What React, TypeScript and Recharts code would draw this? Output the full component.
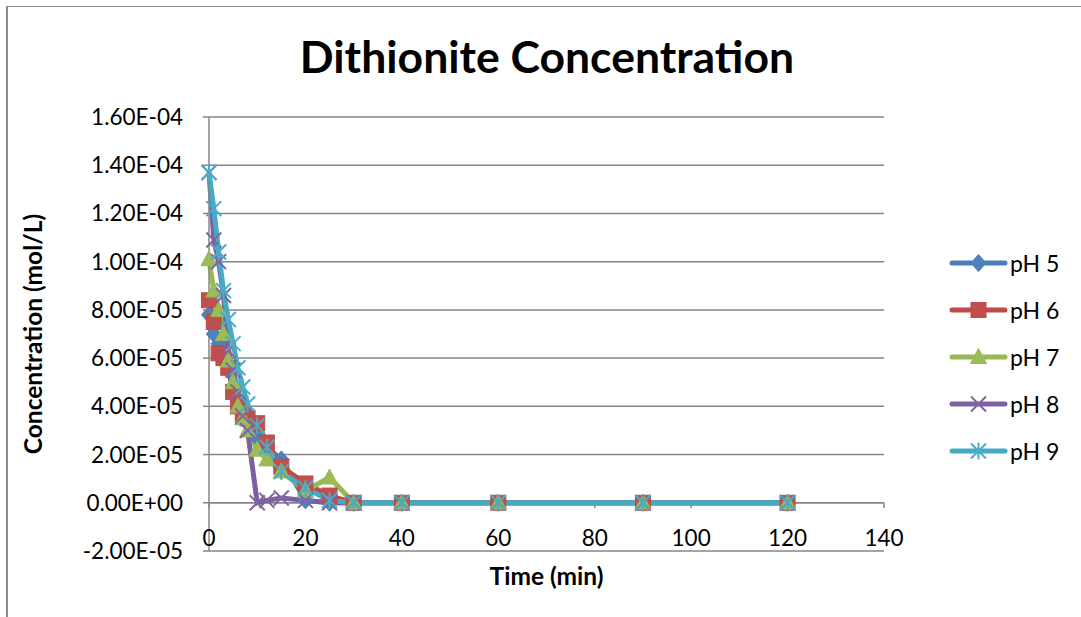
import React from 'react';
import { LineChart, Line, XAxis, YAxis, CartesianGrid, ReferenceLine, Legend } from 'recharts';

const times = [0, 1, 2, 3, 4, 5, 6, 7, 8, 10, 12, 15, 20, 25, 30, 40, 60, 90, 120];
const ph5 = [7.8e-5, 7.0e-5, 6.6e-5, 6.0e-5, 5.5e-5, 4.8e-5, 4.3e-5, 3.8e-5, 3.4e-5, 2.7e-5, 2.3e-5, 1.8e-5, 1e-6, 0, 0, 0, 0, 0, 0];
const ph6 = [8.4e-5, 7.5e-5, 6.2e-5, 6.0e-5, 5.6e-5, 4.6e-5, 4.0e-5, 3.7e-5, 3.5e-5, 3.3e-5, 2.5e-5, 1.5e-5, 8e-6, 3e-6, 0, 0, 0, 0, 0];
const ph7 = [1.01e-4, 8.8e-5, 8.0e-5, 7.0e-5, 5.9e-5, 5.0e-5, 4.0e-5, 3.5e-5, 3.0e-5, 2.2e-5, 1.8e-5, 1.3e-5, 5e-6, 1.05e-5, 0, 0, 0, 0, 0];
const ph8 = [1.37e-4, 1.09e-4, 1.0e-4, 8.6e-5, 6.3e-5, 5.5e-5, 4.6e-5, 3.6e-5, 3.0e-5, 0, 1e-6, 2e-6, 1e-6, 0, 0, 0, 0, 0, 0];
const ph9 = [1.37e-4, 1.22e-4, 1.04e-4, 8.8e-5, 7.6e-5, 6.6e-5, 5.6e-5, 4.8e-5, 4.1e-5, 3.2e-5, 2.3e-5, 1.3e-5, 6e-6, 1e-6, 0, 0, 0, 0, 0];

const seriesNames = ['pH 5', 'pH 6', 'pH 7', 'pH 8', 'pH 9'];
const seriesKeys = ['ph5', 'ph6', 'ph7', 'ph8', 'ph9'];
const seriesValues = [ph5, ph6, ph7, ph8, ph9];
const lineColors = ['#4A7EBB', '#BE4B48', '#98B954', '#7D60A0', '#46AAC5'];
const fillColors = ['#4F81BD', '#C0504D', '#9BBB59', '#8064A2', '#4BACC6'];
const markerTypes = ['diamond', 'square', 'triangle', 'x', 'star'];

const xTicks = [0, 20, 40, 60, 80, 100, 120, 140];
const yTicks = [-2e-5, 0, 2e-5, 4e-5, 6e-5, 8e-5, 1e-4, 1.2e-4, 1.4e-4, 1.6e-4];

const data = times.map((t, i) => {
  const row: any = { t };
  seriesKeys.forEach((k, j) => { row[k] = seriesValues[j][i]; });
  return row;
});

const FONT = 'Lato, "Liberation Sans", sans-serif';
const GRID = '#868686';
const TICK_FS = 22.5;

function fmt(v: number): string {
  if (Math.abs(v) < 1e-15) return '0.00E+00';
  const e = Math.floor(Math.log10(Math.abs(v)) + 1e-9);
  const m = v / Math.pow(10, e);
  return `${m.toFixed(2)}E${e < 0 ? '-' : '+'}${String(Math.abs(e)).padStart(2, '0')}`;
}

function Marker({ type, cx, cy, fill, stroke }: any) {
  if (cx == null || cy == null) return null;
  const s = 7.5;
  switch (type) {
    case 'diamond':
      return <polygon points={`${cx},${cy - s - 1} ${cx + s},${cy} ${cx},${cy + s + 1} ${cx - s},${cy}`} fill={fill} stroke={stroke} strokeWidth={1} />;
    case 'square':
      return <rect x={cx - s} y={cy - s} width={2 * s} height={2 * s} fill={fill} stroke={stroke} strokeWidth={1} />;
    case 'triangle':
      return <polygon points={`${cx},${cy - s - 1} ${cx + s + 0.5},${cy + s - 1} ${cx - s - 0.5},${cy + s - 1}`} fill={fill} stroke={stroke} strokeWidth={1} />;
    case 'x':
      return (
        <g stroke={stroke} strokeWidth={2}>
          <line x1={cx - s} y1={cy - s} x2={cx + s} y2={cy + s} />
          <line x1={cx - s} y1={cy + s} x2={cx + s} y2={cy - s} />
        </g>
      );
    default:
      return (
        <g stroke={stroke} strokeWidth={2}>
          <line x1={cx - s} y1={cy - s} x2={cx + s} y2={cy + s} />
          <line x1={cx - s} y1={cy + s} x2={cx + s} y2={cy - s} />
          <line x1={cx} y1={cy - s - 1} x2={cx} y2={cy + s + 1} />
        </g>
      );
  }
}

const renderLegend = () => (
  <svg width={136} height={240} style={{ display: 'block' }}>
    {seriesNames.map((name, i) => {
      const cy = 23 + i * 47;
      return (
        <g key={name}>
          <line x1={7} y1={cy} x2={60} y2={cy} stroke={lineColors[i]} strokeWidth={5} strokeLinecap="round" />
          <Marker type={markerTypes[i]} cx={33.5} cy={cy} fill={fillColors[i]} stroke={markerTypes[i] === 'x' || markerTypes[i] === 'star' ? fillColors[i] : lineColors[i]} />
          <text x={65} y={cy} dominantBaseline="central" fontFamily={FONT} fontSize={23} fill="#000">{name}</text>
        </g>
      );
    })}
  </svg>
);

export default function App() {
  return (
    <div style={{ position: 'absolute', left: 0, top: 0, width: 1081, height: 617, overflow: 'hidden', background: '#fff', fontFamily: FONT }}>
      <div style={{ position: 'absolute', left: 6, top: 6, width: 1200, height: 800, borderLeft: '2px solid #8c8c8c', borderTop: '1.5px solid #8c8c8c' }} />
      <div style={{ position: 'absolute', left: 0, top: 28, width: 1094, textAlign: 'center', fontSize: 44.5, fontWeight: 700, lineHeight: '56px', color: '#000' }}>
        Dithionite Concentration
      </div>
      <LineChart width={1081} height={617} data={data} margin={{ top: 117, right: 197, bottom: 0, left: 0 }} style={{ position: 'absolute', left: 0, top: 0 }}>
        <CartesianGrid horizontal vertical={false} stroke={GRID} strokeWidth={1.5} />
        <XAxis
          dataKey="t"
          type="number"
          domain={[0, 140]}
          ticks={xTicks}
          interval={0}
          height={66}
          axisLine={false}
          tickLine={false}
          tickSize={0}
          tickMargin={0}
          tick={(p: any) => (
            <text key={`xt-${p.index}`} x={p.x} y={p.y - 14} textAnchor="middle" dominantBaseline="central" fontFamily={FONT} fontSize={TICK_FS} fill="#000">
              {p.payload.value}
            </text>
          )}
          label={{
            content: (p: any) => (
              <text x={p.viewBox.x + p.viewBox.width / 2} y={p.viewBox.y + 24} textAnchor="middle" dominantBaseline="central" fontFamily={FONT} fontSize={24.5} fontWeight={700} fill="#000">
                Time (min)
              </text>
            ),
          }}
        />
        <YAxis
          type="number"
          domain={[-2e-5, 1.6e-4]}
          ticks={yTicks}
          interval={0}
          width={209}
          axisLine={{ stroke: GRID, strokeWidth: 1.5 }}
          tickLine={{ stroke: GRID, strokeWidth: 1.5 }}
          tickSize={6}
          tickMargin={20}
          tickFormatter={fmt}
          tick={{ fontFamily: FONT, fontSize: TICK_FS, fill: '#000' }}
          label={{
            content: (p: any) => (
              <text x={p.viewBox.x + 32} y={p.viewBox.y + p.viewBox.height / 2} textAnchor="middle" dominantBaseline="central" transform={`rotate(-90, ${p.viewBox.x + 32}, ${p.viewBox.y + p.viewBox.height / 2})`} fontFamily={FONT} fontSize={24.5} fontWeight={700} fill="#000">
                Concentration (mol/L)
              </text>
            ),
          }}
        />
        <ReferenceLine y={0} stroke={GRID} strokeWidth={1.5} />
        {xTicks.map((t) => (
          <ReferenceLine key={`tk-${t}`} segment={[{ x: t, y: 0 }, { x: t, y: -2.2e-6 }]} stroke={GRID} strokeWidth={1.5} />
        ))}
        <Legend
          layout="vertical"
          align="center"
          verticalAlign="middle"
          content={renderLegend}
          wrapperStyle={{ left: 945, top: 240, width: 136, height: 240 }}
        />
        {seriesKeys.map((k, i) => (
          <Line
            key={k}
            dataKey={k}
            name={seriesNames[i]}
            type="linear"
            stroke={lineColors[i]}
            strokeWidth={5}
            isAnimationActive={false}
            activeDot={false}
            dot={(p: any) => (
              <Marker
                key={`${k}-${p.index}`}
                type={markerTypes[i]}
                cx={p.cx}
                cy={p.cy}
                fill={fillColors[i]}
                stroke={markerTypes[i] === 'x' || markerTypes[i] === 'star' ? fillColors[i] : lineColors[i]}
              />
            )}
          />
        ))}
      </LineChart>
    </div>
  );
}
